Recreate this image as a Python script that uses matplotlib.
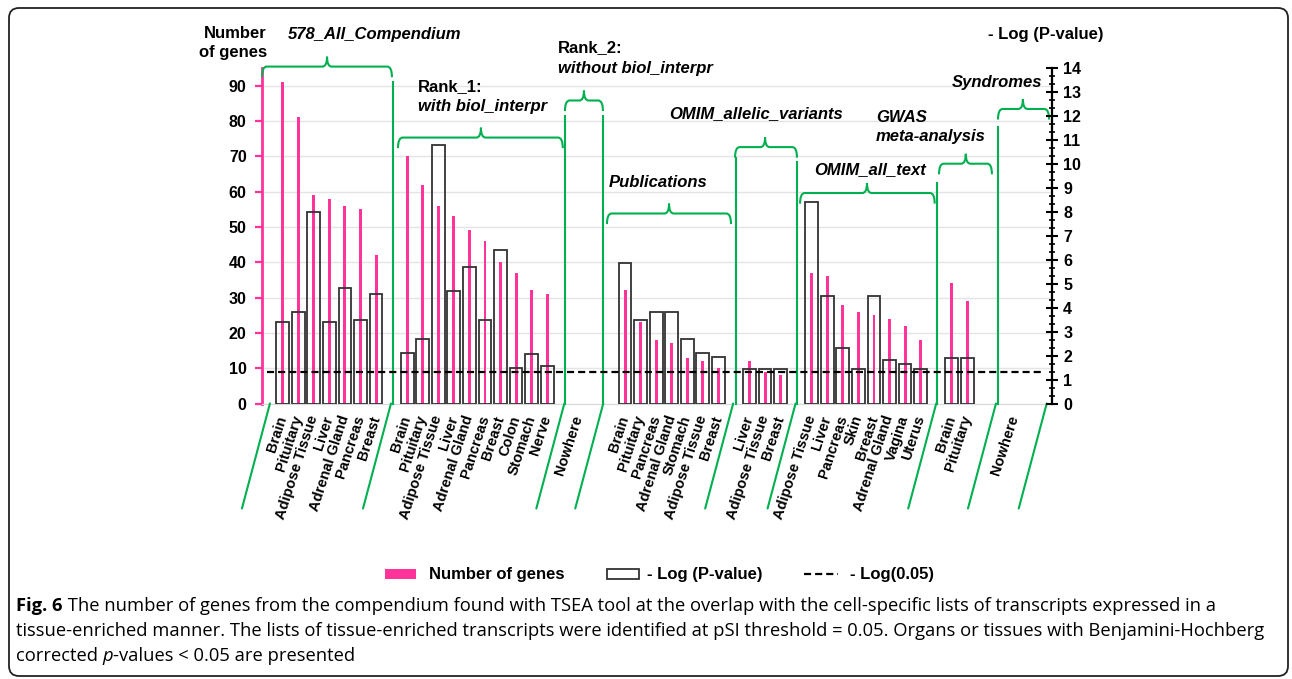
import numpy as np
import matplotlib
matplotlib.use("Agg")
import matplotlib.pyplot as plt
from matplotlib.patches import FancyBboxPatch, Rectangle, PathPatch
from matplotlib.path import Path
from matplotlib.lines import Line2D
from matplotlib.ticker import MultipleLocator
from matplotlib.transforms import IdentityTransform

plt.rcParams['font.family'] = ['Liberation Sans', 'DejaVu Sans']

# ---------------- data ----------------
group_names = ["578_All_Compendium", "Rank_1", "Rank_2", "Publications",
               "OMIM_allelic_variants", "OMIM_all_text", "GWAS", "Syndromes"]

cats_all = ["Brain", "Pituitary", "Adipose Tissue", "Liver", "Adrenal Gland", "Pancreas", "Breast"]
genes_all = [91, 81, 59, 58, 56, 55, 42]
logp_all = [3.4, 3.8, 8.0, 3.4, 4.8, 3.5, 4.55]

cats_r1 = ["Brain", "Pituitary", "Adipose Tissue", "Liver", "Adrenal Gland", "Pancreas",
           "Breast", "Colon", "Stomach", "Nerve"]
genes_r1 = [70, 62, 56, 53, 49, 46, 40, 37, 32, 31]
logp_r1 = [2.1, 2.7, 10.8, 4.7, 5.7, 3.5, 6.4, 1.5, 2.05, 1.55]

cats_r2 = ["Nowhere"]
genes_r2 = []
logp_r2 = []

cats_pub = ["Brain", "Pituitary", "Pancreas", "Adrenal Gland", "Stomach", "Adipose Tissue", "Breast"]
genes_pub = [32, 23, 18, 17, 13, 12, 10]
logp_pub = [5.85, 3.5, 3.8, 3.8, 2.7, 2.1, 1.95]

cats_allelic = ["Liver", "Adipose Tissue", "Breast"]
genes_allelic = [12, 9, 8]
logp_allelic = [1.45, 1.45, 1.45]

cats_omim = ["Adipose Tissue", "Liver", "Pancreas", "Skin", "Breast", "Adrenal Gland", "Vagina", "Uterus"]
genes_omim = [37, 36, 28, 26, 25, 24, 22, 18]
logp_omim = [8.4, 4.5, 2.3, 1.45, 4.5, 1.8, 1.65, 1.45]

cats_gwas = ["Brain", "Pituitary"]
genes_gwas = [34, 29]
logp_gwas = [1.9, 1.9]

cats_syn = ["Nowhere"]
genes_syn = []
logp_syn = []

p_threshold = 0.05

# ---------------- layout ----------------
W, H = 1292, 679
fig = plt.figure(figsize=(W / 100, H / 100), dpi=100)
fig.patch.set_facecolor('white')

def fx(px):
    return px / W

def fy(py):
    return 1 - py / H

PINK = '#ff3399'
GREEN = '#00b050'
BOX = '#333333'

groups = [
    (cats_all, genes_all, logp_all, 0),
    (cats_r1, genes_r1, logp_r1, 8),
    (cats_r2, genes_r2, logp_r2, 19),
    (cats_pub, genes_pub, logp_pub, 22),
    (cats_allelic, genes_allelic, logp_allelic, 30),
    (cats_omim, genes_omim, logp_omim, 34),
    (cats_gwas, genes_gwas, logp_gwas, 43),
    (cats_syn, genes_syn, logp_syn, 47),
]

ax = fig.add_axes([fx(262), fy(403.5), fx(1052) - fx(262), fy(68) - fy(403.5)])
ax2 = ax.twinx()

ax.set_xlim(-1.33, 49.44)
ax.set_ylim(0, 95)
ax2.set_ylim(0, 14)

tick_pos, tick_lab = [], []
for cats, genes, logp, start in groups:
    xs = np.arange(len(cats)) + start
    tick_pos.extend(xs)
    tick_lab.extend(cats)
    if len(genes):
        ax.bar(xs[:len(genes)], genes, width=0.19, color=PINK, zorder=2)
        ax2.bar(xs[:len(logp)], logp, width=0.82, fill=False, edgecolor=BOX,
                linewidth=1.3, zorder=3)

thr = -np.log10(p_threshold)
ax2.plot([-1.0, 48.8], [thr, thr], color='black', lw=1.6, dashes=(3.2, 1.8), zorder=4)

# axes styling
ax.yaxis.grid(True, color='#e4e4e4', lw=1.0)
ax.set_axisbelow(True)
ax.set_yticks(np.arange(0, 91, 10))
for s in ['top', 'right']:
    ax.spines[s].set_visible(False)
ax.spines['bottom'].set_color('#d9d9d9')
ax.spines['left'].set_color(PINK)
ax.spines['left'].set_linewidth(2)
ax.tick_params(axis='y', colors=PINK, length=5, width=1.6, labelcolor='black',
               labelsize=11.5, pad=6)
for lab in ax.get_yticklabels():
    lab.set_fontweight('bold')

ax.set_xticks(tick_pos)
ax.set_xticklabels(tick_lab, rotation=72, ha='right', va='center',
                   rotation_mode='anchor', fontweight='bold', fontsize=10.5)
ax.tick_params(axis='x', length=0, pad=9)

for s in ['top', 'left', 'bottom']:
    ax2.spines[s].set_visible(False)
ax2.spines['right'].set_color('black')
ax2.spines['right'].set_linewidth(1.6)
ax2.set_yticks(np.arange(0, 15, 1))
ax2.yaxis.set_minor_locator(MultipleLocator(1 / 3))
ax2.tick_params(axis='y', which='major', direction='inout', length=8, width=1.5,
                labelsize=11.5, pad=4)
ax2.tick_params(axis='y', which='minor', direction='inout', length=5, width=1.2)
for lab in ax2.get_yticklabels():
    lab.set_fontweight('bold')

# ---------------- green brackets & dividers ----------------
def bracket(x0, x1, xm, y, c=0.3, e=3.0, m=2.8):
    verts = [(x0, y - e), (x0, y), (x0 + c, y), (xm - c, y), (xm, y), (xm, y + m),
             (xm, y + m), (xm, y), (xm + c, y), (x1 - c, y), (x1, y), (x1, y - e)]
    codes = [Path.MOVETO, Path.CURVE3, Path.CURVE3, Path.LINETO, Path.CURVE3, Path.CURVE3,
             Path.MOVETO, Path.CURVE3, Path.CURVE3, Path.LINETO, Path.CURVE3, Path.CURVE3]
    p = PathPatch(Path(verts, codes), fill=False, edgecolor=GREEN, lw=1.5,
                  transform=ax.transData, clip_on=False, zorder=5)
    ax.add_patch(p)

brackets = [(-1.33, 7.02, 2.85, 95.4), (7.41, 18.0, 12.74, 75.3), (18.14, 20.58, 19.36, 85.8),
            (20.84, 28.81, 24.83, 53.8), (29.07, 33.05, 31.0, 72.6), (33.25, 41.9, 37.55, 59.6),
            (42.18, 45.58, 43.9, 67.9), (45.97, 49.25, 47.57, 83.4)]
for b in brackets:
    bracket(*b)

dividers = [(7.07, 91), (18.12, 81.5), (20.58, 81.5), (29.13, 69.4), (33.05, 68.4),
            (42.07, 62.3), (46.0, 78.2)]
for xd, top in dividers:
    ax.plot([xd, xd], [0, top], color=GREEN, lw=1.5, clip_on=False, zorder=5)

slants = [-0.82, 6.96, 18.1, 20.6, 28.95, 32.96, 42.0, 45.84, 49.1]
for xs_ in slants:
    ax.annotate('', xy=(xs_, 0), xycoords='data',
                xytext=(-28 * 0.72, -105 * 0.72), textcoords='offset points',
                arrowprops=dict(arrowstyle='-', color=GREEN, lw=1.5, shrinkA=0, shrinkB=0),
                annotation_clip=False)

# ---------------- header texts ----------------
hdr = dict(fontsize=12, fontweight='bold', va='center')
fig.text(fx(267), fy(33), "Number", ha='right', **hdr)
fig.text(fx(267), fy(52), "of genes", ha='right', **hdr)
fig.text(fx(375), fy(34), "578_All_Compendium", ha='center', style='italic', **hdr)
fig.text(fx(418), fy(87), "Rank_1:", ha='left', **hdr)
fig.text(fx(418), fy(106), "with biol_interpr", ha='left', style='italic', **hdr)
fig.text(fx(558), fy(48), "Rank_2:", ha='left', **hdr)
fig.text(fx(558), fy(69), "without biol_interpr", ha='left', style='italic', **hdr)
fig.text(fx(609), fy(183), "Publications", ha='left', style='italic', **hdr)
fig.text(fx(756), fy(114), "OMIM_allelic_variants", ha='center', style='italic', **hdr)
fig.text(fx(870), fy(170), "OMIM_all_text", ha='center', style='italic', **hdr)
fig.text(fx(876), fy(117), "GWAS", ha='left', style='italic', **hdr)
fig.text(fx(876), fy(137), "meta-analysis", ha='left', style='italic', **hdr)
fig.text(fx(952), fy(82), "Syndromes", ha='left', style='italic', **hdr)
fig.text(fx(988), fy(35), "- Log (P-value)", ha='left', **hdr)

# ---------------- legend ----------------
leg_y = 574
fig.add_artist(Rectangle((fx(385), fy(leg_y + 5)), fx(416) - fx(385), fy(leg_y - 5) - fy(leg_y + 5),
                         transform=fig.transFigure, facecolor=PINK, edgecolor='none'))
fig.text(fx(429), fy(leg_y), "Number of genes", fontsize=12, fontweight='bold', va='center', ha='left')
fig.add_artist(Rectangle((fx(607), fy(leg_y + 5)), fx(639) - fx(607), fy(leg_y - 5) - fy(leg_y + 5),
                         transform=fig.transFigure, facecolor='none', edgecolor=BOX, lw=1.3))
fig.text(fx(647), fy(leg_y), "- Log (P-value)", fontsize=12, fontweight='bold', va='center', ha='left')
fig.add_artist(Line2D([fx(804), fx(838)], [fy(leg_y), fy(leg_y)], transform=fig.transFigure,
                      color='black', lw=1.6, dashes=(3.2, 1.8)))
fig.text(fx(850), fy(leg_y), "- Log(0.05)", fontsize=12, fontweight='bold', va='center', ha='left')

# ---------------- caption ----------------
cap = dict(fontsize=13.2, family=['Open Sans', 'DejaVu Sans'], va='baseline', ha='left')
renderer = fig.canvas.get_renderer()

def seq(parts, x0, ybase):
    x = x0
    for txt, kw in parts:
        t = fig.text(fx(x), fy(ybase), txt, **cap, **kw)
        bb = t.get_window_extent(renderer)
        x += bb.width

seq([("Fig. 6", dict(fontweight='bold')),
     (" The number of genes from the compendium found with TSEA tool at the overlap with the "
      "cell-specific lists of transcripts expressed in a", {})], 16, 611)
seq([("tissue-enriched manner. The lists of tissue-enriched transcripts were identified at pSI "
      "threshold = 0.05. Organs or tissues with Benjamini-Hochberg", {})], 16, 636)
seq([("corrected ", {}), ("p", dict(style='italic')), ("-values < 0.05 are presented", {})], 16, 661)

# ---------------- border ----------------
border = FancyBboxPatch((9, 3), 1279, 668, boxstyle="round,pad=0,rounding_size=10",
                        transform=IdentityTransform(), facecolor='none',
                        edgecolor='#222222', lw=1.3)
fig.add_artist(border)

fig.savefig("out.png", dpi=100)
